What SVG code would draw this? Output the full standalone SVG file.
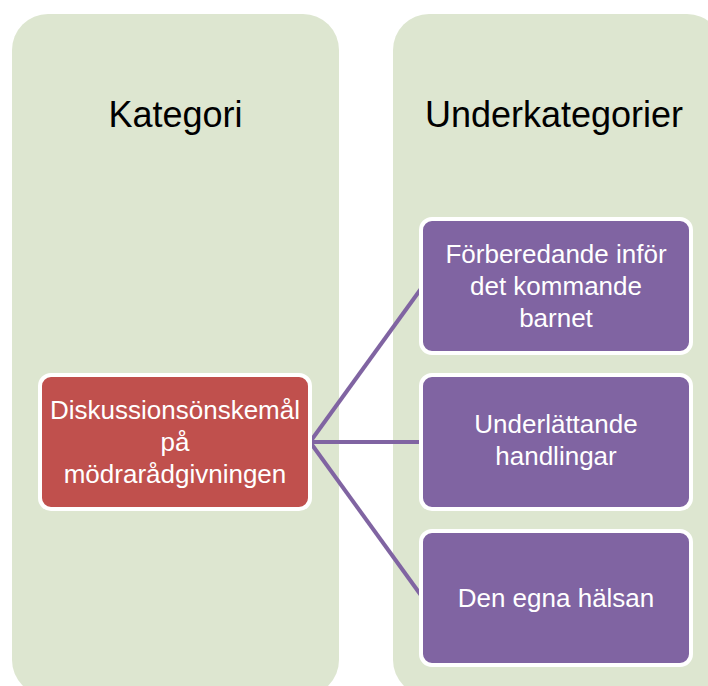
<svg xmlns="http://www.w3.org/2000/svg" width="708" height="686" viewBox="0 0 708 686">
<style>
.panel{fill:#DDE6D0}
.title{font-family:"Liberation Sans",Arial,sans-serif;font-size:36px;fill:#000;text-anchor:middle}
.box{stroke:#fff;stroke-width:4}
.red{fill:#C0504D}
.purple{fill:#8064A2}
.lbl{font-family:"Liberation Sans",Arial,sans-serif;font-size:26px;fill:#fff;text-anchor:middle}
.conn{stroke:#8064A2;stroke-width:4;fill:none}
</style>
<rect width="708" height="686" fill="#fff"/>
<g id="panel-kategori">
<rect class="panel" x="12" y="14" width="327" height="682" rx="36"/>
<text class="title" x="175.5" y="127">Kategori</text>
</g>
<g id="panel-underkategorier">
<rect class="panel" x="393" y="14" width="330" height="682" rx="36"/>
<text class="title" x="554" y="127">Underkategorier</text>
</g>
<g id="connectors">
<line class="conn" x1="310" y1="442" x2="423" y2="286"/>
<line class="conn" x1="310" y1="442" x2="423" y2="442"/>
<line class="conn" x1="310" y1="442" x2="423" y2="598"/>
</g>
<g id="node-kategori">
<rect class="box red" x="40" y="375" width="270" height="134" rx="11"/>
<text class="lbl" x="175" y="419">Diskussionsönskemål</text>
<text class="lbl" x="175" y="451">på</text>
<text class="lbl" x="175" y="483">mödrarådgivningen</text>
</g>
<g id="node-forberedande">
<rect class="box purple" x="421" y="219" width="270" height="134" rx="11"/>
<text class="lbl" x="556" y="263">Förberedande inför</text>
<text class="lbl" x="556" y="295">det kommande</text>
<text class="lbl" x="556" y="327">barnet</text>
</g>
<g id="node-underlattande">
<rect class="box purple" x="421" y="375" width="270" height="134" rx="11"/>
<text class="lbl" x="556" y="433">Underlättande</text>
<text class="lbl" x="556" y="465">handlingar</text>
</g>
<g id="node-halsan">
<rect class="box purple" x="421" y="531" width="270" height="134" rx="11"/>
<text class="lbl" x="556" y="607">Den egna hälsan</text>
</g>
</svg>
